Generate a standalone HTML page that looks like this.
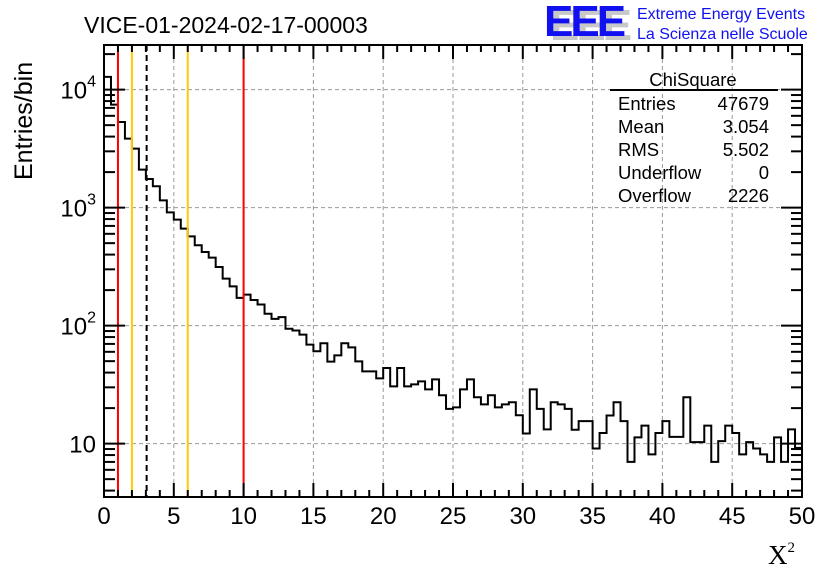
<!DOCTYPE html>
<html><head><meta charset="utf-8"><style>
body{margin:0;background:#fff;}
svg{display:block;font-family:"Liberation Sans",Arial,sans-serif;}
</style></head><body>
<svg id="chart" width="836" height="572" viewBox="0 0 836 572" xmlns="http://www.w3.org/2000/svg">
<rect width="836" height="572" fill="#fff"/>
<g id="grid"></g>
<g id="marks"></g>
<g id="axes"></g>
<text x="84" y="33" font-size="23" fill="#000">VICE-01-2024-02-17-00003</text>
<g>
<text x="550" y="40" font-size="44" font-weight="bold" fill="#c8c8c8" letter-spacing="-3">EEE</text>
<text x="544" y="36" font-size="44" font-weight="bold" fill="#1010f0" letter-spacing="-3">EEE</text>
<text x="637" y="19" font-size="16" fill="#1010f0">Extreme Energy Events</text>
<text x="637" y="39" font-size="16" fill="#1010f0">La Scienza nelle Scuole</text>
</g>
<g font-size="18.5" fill="#000">
<text x="693" y="86" text-anchor="middle">ChiSquare</text>
<line x1="610" y1="90" x2="778" y2="90" stroke="#000" stroke-width="2"/>
<text x="618" y="110">Entries</text><text x="769" y="110" text-anchor="end">47679</text>
<text x="618" y="133">Mean</text><text x="769" y="133" text-anchor="end">3.054</text>
<text x="618" y="156">RMS</text><text x="769" y="156" text-anchor="end">5.502</text>
<text x="618" y="179">Underflow</text><text x="769" y="179" text-anchor="end">0</text>
<text x="618" y="202">Overflow</text><text x="769" y="202" text-anchor="end">2226</text>
</g>
<text transform="translate(32,180) rotate(-90)" font-size="25" fill="#000">Entries/bin</text>
<text x="768" y="564" font-size="27" font-family="Liberation Serif,serif" fill="#000">X<tspan font-size="15" dy="-12">2</tspan></text>
</svg>
<script>
const binCounts = [12820,7460,5320,3845,3162,2100,1750,1517,1153,912,791,664,571,480,421,377,314,250,215,172,183,165,151,126,114,118,94,91,84,69,60.6,71,49.5,56,71,65.5,49.8,41,41,35.7,43.8,30.6,43.8,30.6,31.8,33.7,28.8,35,25.7,19.7,20.3,28.8,35,24.7,21.5,25.7,20.3,21.5,22.4,17.4,12.2,28.8,19.7,13.2,22.4,21.5,19.7,13.1,15.5,15.5,9.1,12.3,17.3,22.4,15.5,7.0,11.3,14.2,8.1,12.3,15.5,11.4,11.4,24.7,10.3,10.3,14.2,7.0,10.5,14.2,12.3,8.1,10.3,9.1,8.1,7.0,11.3,7.0,13.2,9.2];
const binWidth = 0.5;
const xTicks = [0,5,10,15,20,25,30,35,40,45,50];
const yDecades = [10,100,1000,10000];
const cutLines = [1,2,6,10];
const cutColors = ["#ff0000","#ffcc00","#ffcc00","#ff0000"];
const meanValue = 3.054;

const X0=104, X1=802, Y0=497, Y1=45, XMIN=0, XMAX=50;
const YMIN=Math.log10(3.53), PPD=118;
const NS="http://www.w3.org/2000/svg";
function sx(v){return X0+(v-XMIN)/(XMAX-XMIN)*(X1-X0);}
function sy(v){return Y0-(Math.log10(v)-YMIN)*PPD;}
function mk(tag,attrs,parent){const e=document.createElementNS(NS,tag);for(const k in attrs)e.setAttribute(k,attrs[k]);parent.appendChild(e);return e;}
const grid=document.getElementById('grid'),marks=document.getElementById('marks'),axes=document.getElementById('axes');

xTicks.forEach(t=>{if(t>0&&t<50){const l=mk('line',{x1:sx(t),x2:sx(t),y1:Y1,y2:Y0,stroke:'#999','stroke-dasharray':'4,3','stroke-width':1},grid);

}});
yDecades.forEach(d=>{const l=mk('line',{x1:X0,x2:X1,y1:sy(d),y2:sy(d),stroke:'#999','stroke-dasharray':'4,3','stroke-width':1},grid);

});

let d='M'+sx(0)+','+Y0;
binCounts.forEach((c,i)=>{const y=sy(c);d+=' L'+sx(i*binWidth)+','+y+' L'+sx((i+1)*binWidth)+','+y;});
d+=' L'+sx(binCounts.length*binWidth)+','+Y0;
const h=mk('path',{d:d,fill:'none',stroke:'#000','stroke-width':2},marks);



cutLines.forEach((v,i)=>{const l=mk('line',{x1:sx(v),x2:sx(v),y1:Y1,y2:Y0,stroke:cutColors[i],'stroke-width':2},marks);

});
const ml=mk('line',{x1:sx(meanValue),x2:sx(meanValue),y1:Y1,y2:Y0,stroke:'#000','stroke-width':2,'stroke-dasharray':'6,4'},marks);



const fr=mk('rect',{x:X0,y:Y1,width:X1-X0,height:Y0-Y1,fill:'none',stroke:'#000','stroke-width':2},axes);



for(let v=0;v<=50;v++){const major=v%5===0;const len=major?14:7;
mk('line',{x1:sx(v),x2:sx(v),y1:Y0,y2:Y0-len,stroke:'#000','stroke-width':2},axes);
mk('line',{x1:sx(v),x2:sx(v),y1:Y1,y2:Y1+len,stroke:'#000','stroke-width':2},axes);}
xTicks.forEach(t=>{const tx=mk('text',{x:sx(t),y:524,'font-size':24,'text-anchor':'middle',fill:'#000'},axes);tx.textContent=t;

});

for(let e=0;e<=4;e++){for(let m=1;m<=9;m++){const v=m*Math.pow(10,e);const y=sy(v);if(y>Y0+0.5||y<Y1-0.5)continue;const len=m===1?21:11;
mk('line',{x1:X0,x2:X0+len,y1:y,y2:y,stroke:'#000','stroke-width':2},axes);
mk('line',{x1:X1,x2:X1-len,y1:y,y2:y,stroke:'#000','stroke-width':2},axes);}}
yDecades.forEach((dv,i)=>{const t=mk('text',{x:96,y:sy(dv)+9,'font-size':24,'text-anchor':'end',fill:'#000'},axes);
if(i===0){t.textContent='10';}else{t.textContent='10';const s=mk('tspan',{'font-size':16,dy:-12},t);s.textContent=String(i+1);}

});
</script>
</body></html>
